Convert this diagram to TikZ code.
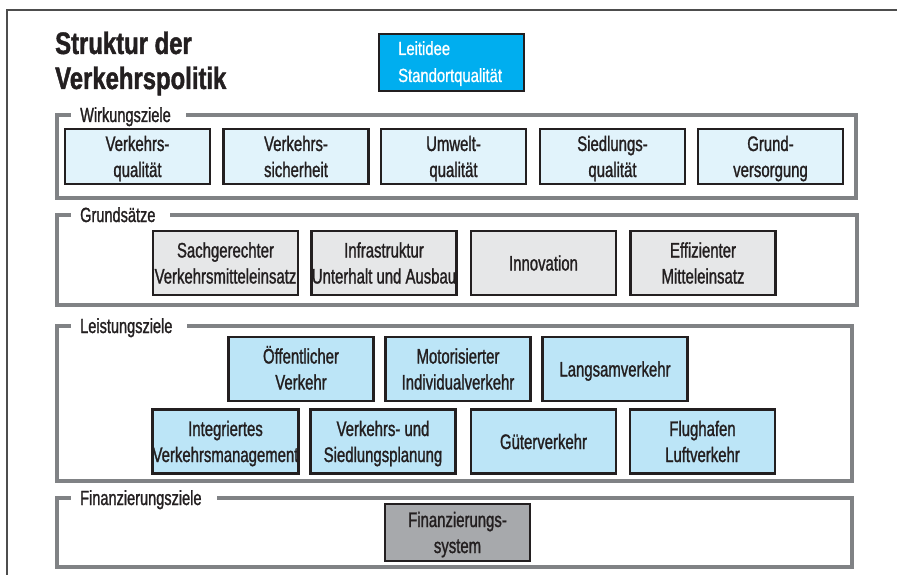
\documentclass[tikz,border=0pt]{standalone}
\usepackage{fontspec}
\setmainfont[FakeStretch=0.71]{Liberation Sans}
\newfontfamily\boxfont[FakeStretch=0.71, FakeBold=1.2]{Liberation Sans}
\newfontfamily\leitfont[FakeStretch=0.78, FakeBold=0.9]{Liberation Sans}
\newfontfamily\titlefont[FakeStretch=0.77, FakeBold=1.4]{Liberation Sans Bold}
\definecolor{txt}{HTML}{231F20}
\definecolor{framegray}{HTML}{808285}
\definecolor{leitblue}{HTML}{00AEEF}
\definecolor{wfill}{HTML}{E1F3FB}
\definecolor{gfill}{HTML}{E6E7E8}
\definecolor{lfill}{HTML}{BCE5F7}
\definecolor{ffill}{HTML}{A7A9AC}
\definecolor{outerc}{HTML}{4D4D4D}
\newcommand\twoline[2]{\raisebox{5.5pt}[0pt][0pt]{\begin{tabular}[t]{@{}c@{}}#1\\#2\end{tabular}}}
\newcommand\oneline[1]{\raisebox{-7.5pt}[0pt][0pt]{#1}}
\begin{document}
\begin{tikzpicture}[x=1pt,y=-1pt,
  box/.style={draw=txt, line width=2.2pt, inner sep=0pt, text=txt,
    minimum width=145pt, font=\boxfont\fontsize{21}{26}\selectfont},
  wbox/.style={box, fill=wfill, minimum height=55pt},
  gbox/.style={box, fill=gfill, minimum height=64pt},
  lbox/.style={box, fill=lfill, minimum height=64pt},
  fbox/.style={box, fill=ffill, minimum height=57pt},
  frame/.style={draw=framegray, line width=4.5pt},
  flabel/.style={anchor=base west, fill=white, inner xsep=0pt, inner ysep=2pt, text=txt,
    font=\boxfont\fontsize{20.5}{22}\selectfont},
  title/.style={anchor=base west, inner sep=0pt, text=txt, font=\titlefont\fontsize{31}{35}\selectfont},
  leittext/.style={anchor=base west, inner sep=0pt, text=white, font=\leitfont\fontsize{19}{22}\selectfont},
]
\useasboundingbox (0,0) rectangle (897,575);
\draw[outerc, line width=1.2pt] (7,575) -- (7,10) -- (897,10);

% title
\node[title] (t1) at (55,54) {Struktur der};
\node[title] (t2) at (55,89) {Verkehrspolitik};

% Leitidee
\node[draw=txt, line width=2.2pt, fill=leitblue, minimum width=145pt, minimum height=57pt] (leit) at (451.5,62.5) {};
\node[leittext] (leit1) at (398,55) {Leitidee};
\node[leittext] (leit2) at (398,82) {Standortqualität};

% frames
\draw[frame] (57,115) rectangle (856,198);
\node[flabel] (lw) at (71,122) {\kern9pt Wirkungsziele\kern15pt};
\draw[frame] (57,215) rectangle (857,305);
\node[flabel] (lg) at (71,222) {\kern9pt Grundsätze\kern15pt};
\draw[frame] (57,326) rectangle (852,481);
\node[flabel] (ll) at (71,333) {\kern9pt Leistungsziele\kern15pt};
\draw[frame] (57,498) rectangle (852,567);
\node[flabel] (lf) at (71,505) {\kern9pt Finanzierungsziele\kern15pt};

% Wirkungsziele
\node[wbox] (w1) at (137.5,156.5) {\twoline{Verkehrs-}{qualität}};
\node[wbox] (w2) at (296,156.5) {\twoline{Verkehrs-}{sicherheit}};
\node[wbox] (w3) at (453.5,156.5) {\twoline{Umwelt-}{qualität}};
\node[wbox] (w4) at (612.5,156.5) {\twoline{Siedlungs-}{qualität}};
\node[wbox] (w5) at (770.5,156.5) {\twoline{Grund-}{versorgung}};

% Grundsaetze
\node[gbox] (g1) at (225.5,263) {\twoline{Sachgerechter}{Verkehrsmitteleinsatz}};
\node[gbox] (g2) at (384,263) {\twoline{Infrastruktur}{Unterhalt und Ausbau}};
\node[gbox] (g3) at (543.5,263) {\oneline{Innovation}};
\node[gbox] (g4) at (703,263) {\twoline{Effizienter}{Mitteleinsatz}};

% Leistungsziele
\node[lbox] (l1) at (301,369) {\twoline{Öffentlicher}{Verkehr}};
\node[lbox] (l2) at (458,369) {\twoline{Motorisierter}{Individualverkehr}};
\node[lbox] (l3) at (615,369) {\oneline{Langsamverkehr}};
\node[lbox] (l4) at (225.5,441.5) {\twoline{Integriertes}{Verkehrsmanagement}};
\node[lbox] (l5) at (383,441.5) {\twoline{Verkehrs- und}{Siedlungsplanung}};
\node[lbox] (l6) at (543.5,441.5) {\oneline{Güterverkehr}};
\node[lbox] (l7) at (702.5,441.5) {\twoline{Flughafen}{Luftverkehr}};

% Finanzierungsziele
\node[fbox] (f1) at (457.5,532.5) {\twoline{Finanzierungs-}{system}};
\end{tikzpicture}
\end{document}
